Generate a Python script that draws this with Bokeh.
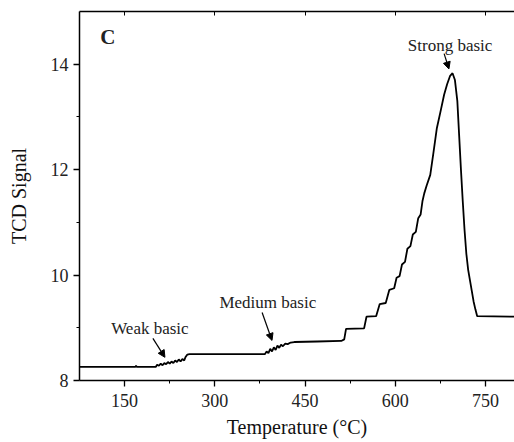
from bokeh.plotting import figure
from bokeh.models import LinearAxis, FixedTicker, Range1d, Arrow, NormalHead, Label
from bokeh.embed import file_html
from bokeh.resources import INLINE

# ---- data ----
temperature = [75, 168, 169, 170, 202,
               204, 207, 210, 213, 216, 219, 222, 225, 228, 231, 234, 237, 240, 243, 246, 249, 251, 254, 258,
               300, 340, 383,
               386, 389, 392, 395, 398, 401, 404, 407, 410, 413, 417, 421, 426, 432,
               470, 510, 515,
               518, 548, 552, 568, 574, 584, 590, 598, 602, 607, 611, 616, 620, 625, 629, 634, 638, 642,
               645, 648, 652, 658, 663, 669, 675, 681, 686, 691, 695,
               699, 703, 706, 709, 712, 715, 718, 721, 724, 727, 730, 733, 736, 800]
tcd_signal = [8.26, 8.26, 8.28, 8.26, 8.26,
              8.30, 8.28, 8.32, 8.29, 8.33, 8.31, 8.35, 8.32, 8.36, 8.33, 8.38, 8.35, 8.40, 8.36, 8.41, 8.38, 8.44, 8.49, 8.50,
              8.50, 8.50, 8.50,
              8.55, 8.52, 8.60, 8.55, 8.63, 8.58, 8.66, 8.62, 8.68, 8.65, 8.70, 8.69, 8.72, 8.73,
              8.74, 8.75, 8.78,
              8.98, 8.99, 9.21, 9.22, 9.45, 9.47, 9.72, 9.75, 9.95, 9.98, 10.2, 10.25, 10.5, 10.55, 10.77, 10.82, 11.08, 11.15,
              11.4, 11.55, 11.7, 11.9, 12.3, 12.79, 13.1, 13.42, 13.62, 13.78, 13.83,
              13.7, 13.3, 12.65, 12.0, 11.4, 10.85, 10.4, 10.1, 9.9, 9.7, 9.5, 9.35, 9.22, 9.21]

x_ticks = [150, 300, 450, 600, 750]
x_minor_ticks = [225, 375, 525, 675]
y_ticks = [8, 10, 12, 14]
y_minor_ticks = [9, 11, 13]

annot_texts = ["Weak basic", "Medium basic", "Strong basic"]
annot_x = [192, 388, 691]
annot_y = [8.99, 9.48, 14.36]
arrow_start_x = [197, 378.5, 681]
arrow_start_y = [8.80, 9.29, 14.20]
arrow_end_x = [217, 395, 689]
arrow_end_y = [8.44, 8.76, 13.91]

FONT = "Liberation Serif"

p = figure(frame_width=435, frame_height=369, output_backend="svg", toolbar_location=None,
           x_range=Range1d(75, 798), y_range=Range1d(8, 15),
           min_border_left=79, min_border_right=0, min_border_top=11, min_border_bottom=62)
p.outline_line_color = None
p.xgrid.visible = False
p.ygrid.visible = False
p.background_fill_color = "white"
p.border_fill_color = "white"

p.line(temperature, tcd_signal, line_color="black", line_width=1.8)

for ax in (p.xaxis[0], p.yaxis[0]):
    ax.axis_line_color = "black"
    ax.axis_line_width = 1.5
    ax.major_tick_line_color = "black"
    ax.major_tick_line_width = 1.3
    ax.minor_tick_line_color = "black"
    ax.major_tick_in = 0
    ax.major_tick_out = 6
    ax.minor_tick_in = 0
    ax.minor_tick_out = 3
    ax.major_label_text_font = FONT
    ax.major_label_text_font_size = "18px"
    ax.major_label_text_color = "#222222"
    ax.axis_label_text_font = FONT
    ax.axis_label_text_font_size = "20px"
    ax.axis_label_text_font_style = "normal"
    ax.axis_label_text_color = "#111111"

p.xaxis[0].ticker = FixedTicker(ticks=x_ticks, minor_ticks=x_minor_ticks)
p.yaxis[0].ticker = FixedTicker(ticks=y_ticks, minor_ticks=y_minor_ticks)
p.xaxis[0].axis_label = "Temperature (°C)"
p.yaxis[0].axis_label = "TCD Signal"
p.xaxis[0].major_label_standoff = 7
p.xaxis[0].axis_label_standoff = 6
p.yaxis[0].major_label_standoff = 5
p.yaxis[0].axis_label_standoff = 18

top = LinearAxis(ticker=FixedTicker(ticks=x_ticks, minor_ticks=[]))
top.axis_line_color = "black"
top.axis_line_width = 1.5
top.major_tick_in = 4
top.major_tick_out = 0
top.minor_tick_in = 0
top.minor_tick_out = 0
top.major_label_text_font_size = "0px"
top.major_label_text_color = None
top.major_label_standoff = 0
p.add_layout(top, "above")

for t, x, y in zip(annot_texts, annot_x, annot_y):
    p.add_layout(Label(x=x, y=y, text=t, text_font=FONT, text_font_size="17px",
                       text_align="center", text_baseline="middle", text_color="#222222"))

for x0, y0, x1, y1 in zip(arrow_start_x, arrow_start_y, arrow_end_x, arrow_end_y):
    p.add_layout(Arrow(end=NormalHead(size=7, fill_color="black", line_color="black"),
                       x_start=x0, y_start=y0, x_end=x1, y_end=y1,
                       line_color="black", line_width=1.2))

p.add_layout(Label(x=122, y=14.52, text="C", text_font=FONT, text_font_size="21px",
                   text_font_style="bold", text_align="center", text_baseline="middle",
                   text_color="#222222"))

open("out.html", "w").write(file_html(p, INLINE))
